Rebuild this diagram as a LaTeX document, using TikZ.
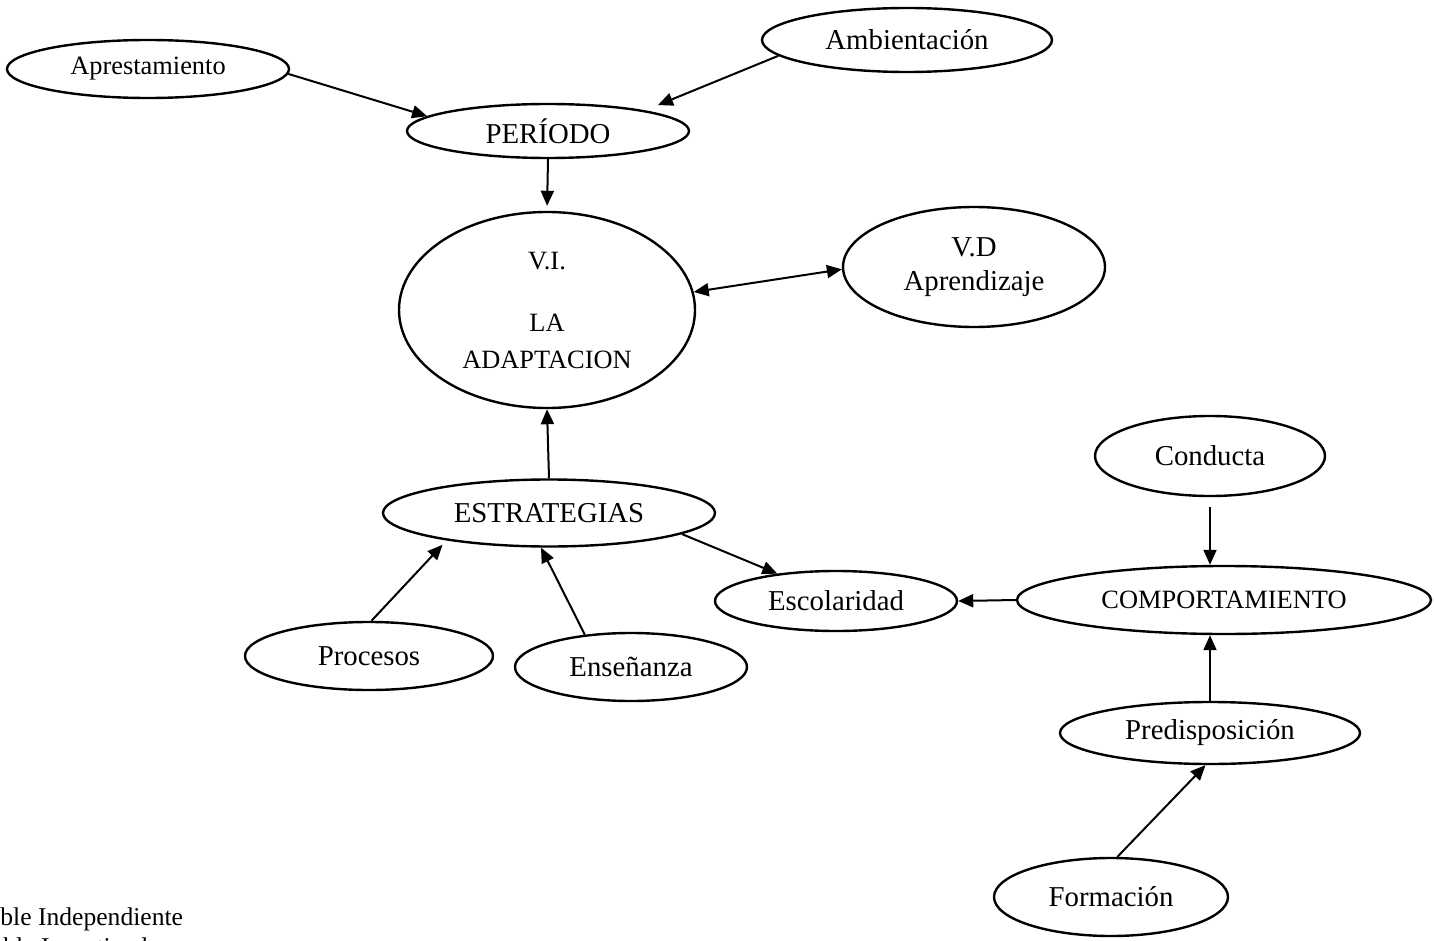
\documentclass[tikz,border=0pt]{standalone}
\usepackage{fontspec}
\setmainfont{Liberation Serif}
\usetikzlibrary{shapes.geometric,arrows.meta}
\begin{document}
\begin{tikzpicture}[x=0.5pt,y=-0.5pt,
  ell/.style={draw,ellipse,line width=1.2pt,inner sep=0pt,align=center,
    font=\fontsize{14.4}{17}\selectfont},
  sz/.style 2 args={minimum width=#1pt,minimum height=#2pt},
  sm/.style={font=\fontsize{13.2}{18.5}\selectfont},
  con/.style={line width=1pt,-{Triangle[length=7.5pt,width=6.5pt]}},
  bicon/.style={line width=1pt,{Triangle[length=7.5pt,width=6.5pt]}-{Triangle[length=7.5pt,width=6.5pt]}},
  note/.style={inner sep=0pt,anchor=base west,font=\fontsize{12.8}{15}\selectfont}
]
\useasboundingbox (0,0) rectangle (1434,941);
\clip (0,0) rectangle (1434,941);

\node[ell,sm,sz={141}{29}] (apr) at (148,69) {Aprestamiento};
\node[ell,sz={145}{32}] (amb) at (907,40) {Ambientación};
\node[ell,sz={141}{27}] (per) at (548,131) {PERÍODO};
\node[ell,sm,sz={148}{98}] (vi) at (547,310) {V.I.\\[12.5pt]LA\\ADAPTACION};
\node[ell,sz={131}{60}] (vd) at (974,267) {V.D\\Aprendizaje};
\node[ell,sz={166}{33.5}] (est) at (549,513) {ESTRATEGIAS};
\node[ell,sz={124}{34}] (pro) at (369,656) {Procesos};
\node[ell,sz={116}{34}] (ens) at (631,667) {Enseñanza};
\node[ell,sz={121}{30}] (esc) at (836,601) {Escolaridad};
\node[ell,sz={115}{40}] (cnd) at (1210,456) {Conducta};
\node[ell,sm,sz={207}{34}] (cmp) at (1224,600) {COMPORTAMIENTO};
\node[ell,sz={150}{31}] (pre) at (1210,733) {Predisposición};
\node[ell,sz={117}{39}] (frm) at (1111,897) {Formación};

\node[note] (n1) at (0,925) {ble Independiente};
\node[note] (n2) at (3,955) {ble Investigada};

\draw[con] (apr.-2) -- (per.173);
\draw[con,shorten >=7pt] (amb.187) -- (per.12);
\draw[con,shorten >=2.5pt] (per.south) -- (vi.north);
\draw[bicon] (vi.7) -- (vd.181);
\draw[con] (est.north) -- (vi.south);
\draw[con,shorten >=3pt] (pro.86) -- (est.195);
\draw[con] (ens.145) -- (est.257);
\draw[con] (est.-9) -- (esc.155);
\draw[con] (cmp.west) -- (esc.east);
\draw[con,shorten <=5pt] (cnd.south) -- (cnd.south |- cmp.north);
\draw[con] (pre.north) -- (pre.north |- cmp.south);
\draw[con] (frm.81) -- (pre.262);
\end{tikzpicture}
\end{document}
